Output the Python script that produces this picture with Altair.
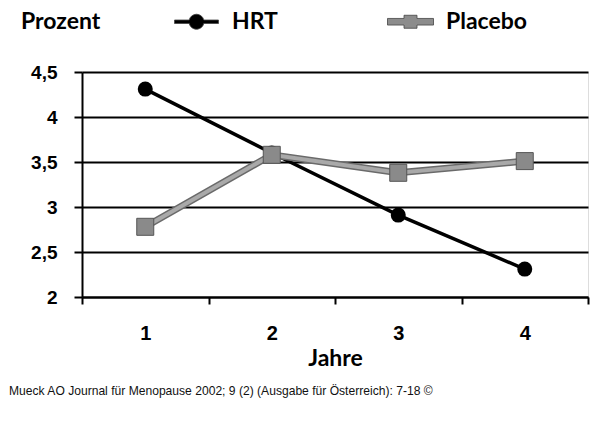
import altair as alt
import pandas as pd

# ---- data ----
years = ["1", "2", "3", "4"]
hrt = [4.31, 3.60, 2.91, 2.31]
placebo = [2.78, 3.58, 3.38, 3.51]
series = ["HRT", "Placebo"]
y_ticks = [2, 2.5, 3, 3.5, 4, 4.5]
source = "Mueck AO Journal für Menopause 2002; 9 (2) (Ausgabe für Österreich): 7-18 ©"

df = pd.DataFrame(
    {"Jahr": years * 2,
     "Serie": ["HRT"] * 4 + ["Placebo"] * 4,
     "Wert": hrt + placebo}
)

LABEL_FONT = "Liberation Sans"
TITLE_FONT = "Lato"

x = alt.X(
    "Jahr:N",
    sort=years,
    scale=alt.Scale(type="band", paddingInner=0, paddingOuter=0),
    axis=alt.Axis(
        title="Jahre", labelAngle=0, tickBand="extent", grid=False,
        domainColor="#000", domainWidth=2, tickColor="#000", tickWidth=2, tickSize=7,
        labelFont=LABEL_FONT, labelFontSize=20, labelFontWeight="bold", labelColor="#000",
        labelPadding=19, labelBaseline="top",
        titleFont=TITLE_FONT, titleFontSize=23, titleFontWeight="bold", titleColor="#000",
        titleY=50, titleBaseline="top",
    ),
)
y = alt.Y(
    "Wert:Q",
    scale=alt.Scale(domain=[2, 4.5], nice=False, zero=False),
    axis=alt.Axis(
        title=None, values=y_ticks,
        labelExpr="replace(format(datum.value, '~g'), '.', ',')",
        grid=True, gridColor="#000", gridWidth=2, gridOpacity=1,
        domainColor="#000", domainWidth=2, tickColor="#000", tickWidth=2, tickSize=8,
        labelFont=LABEL_FONT, labelFontSize=19, labelFontWeight="bold", labelColor="#000",
        labelPadding=17,
    ),
)

base = alt.Chart(df).encode(x=x, y=y)
hrt_df = base.transform_filter(alt.datum.Serie == "HRT")
plc_df = base.transform_filter(alt.datum.Serie == "Placebo")

hrt_line = hrt_df.mark_line(color="#000", strokeWidth=3.5)
hrt_pts = hrt_df.mark_circle(color="#000", size=225, opacity=1)
plc_line_under = plc_df.mark_line(color="#6a6a6a", strokeWidth=7)
plc_line_top = plc_df.mark_line(color="#a9a9a9", strokeWidth=4)
plc_pts = plc_df.mark_square(fill="#8a8a8a", stroke="#555", strokeWidth=1, size=289, opacity=1)

# legend glyphs: line with marker (unit = 10 px, symbol box 20 px)
hrt_path = ("M-2.2,-0.175L-0.73,-0.175A0.75,0.75 0 0 1 0.73,-0.175L2.2,-0.175L2.2,0.175"
            "L0.73,0.175A0.75,0.75 0 0 1 -0.73,0.175L-2.2,0.175Z")
plc_path = ("M-2.3,-0.33L-0.65,-0.33L-0.65,-0.65L0.65,-0.65L0.65,-0.33L2.3,-0.33L2.3,0.33"
            "L0.65,0.33L0.65,0.65L-0.65,0.65L-0.65,0.33L-2.3,0.33Z")

legend = alt.Legend(
    title="Prozent", orient="none", legendX=-61, legendY=-62, direction="horizontal",
    titleOrient="left",
    titleFont=TITLE_FONT, titleFontSize=23, titleFontWeight="bold", titleColor="#000",
    titlePadding=84,
    labelFont=TITLE_FONT, labelFontSize=23, labelFontWeight="bold", labelColor="#000",
    labelOffset=24, symbolSize=400, symbolStrokeColor="#444", symbolStrokeWidth=0.8,
    gridAlign="all", columnPadding=71,
)
legend_layer = alt.Chart(df).transform_filter("false").mark_point(filled=True, opacity=1).encode(
    x=x, y=y,
    color=alt.Color("Serie:N", scale=alt.Scale(domain=series, range=["#000000", "#8c8c8c"]), legend=legend),
    shape=alt.Shape("Serie:N", scale=alt.Scale(domain=series, range=[hrt_path, plc_path]), legend=legend),
)

src = alt.Chart(pd.DataFrame({"t": [source]})).mark_text(
    align="left", baseline="middle", font=LABEL_FONT, fontSize=12.1, color="#111"
).encode(text="t:N", x=alt.value(-73), y=alt.value(319))

chart = alt.layer(
    hrt_line, hrt_pts, plc_line_under, plc_line_top, plc_pts, legend_layer, src
).properties(
    width=506, height=225,
    autosize=alt.AutoSizeParams(type="none"),
    padding={"left": 74, "top": 64, "right": 4, "bottom": 110},
).configure_view(stroke=None).configure(background="white")

chart.save("out.html", embed_options={"renderer": "svg", "actions": False})
